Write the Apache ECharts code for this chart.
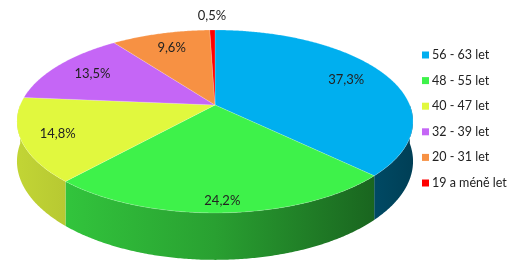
<!DOCTYPE html>
<html><head><meta charset="utf-8">
<script src="https://cdn.jsdelivr.net/npm/echarts@6/dist/echarts.min.js"></script>
<style>html,body{margin:0;padding:0;background:#fff}#c{width:513px;height:270px}</style>
</head><body><div id="c"></div>
<script>
const categories = ['56 - 63 let','48 - 55 let','40 - 47 let','32 - 39 let','20 - 31 let','19 a méně let'];
const values = [37.3, 24.2, 14.8, 13.5, 9.6, 0.5];
const colors = ['#00AFEF','#3EF24A','#E1F83E','#C566F6','#F79143','#FF0000'];

// geometry (layout)
const CX = 215, CY = 105, A = 194.8, B = 88.5, K = 0.18, D = 38.5;
const total = values.reduce((s, v) => s + v, 0);
const starts = [];
{ let acc = 0; values.forEach(v => { starts.push(acc); acc += v; }); }

function proj(t, r, dy) {
  const phi = Math.PI / 2 - t;
  const u = r * Math.cos(phi), v = r * Math.sin(phi);
  const den = 1 + K * v;
  return [CX + A * u / den, CY - B * v / den + (dy || 0) / den];
}
function hexToRgb(h) { const n = parseInt(h.slice(1), 16); return [(n >> 16) & 255, (n >> 8) & 255, n & 255]; }
function shade(h, f) { const c = hexToRgb(h); return 'rgb(' + c.map(x => Math.round(x * f)).join(',') + ')'; }
function fmt(v) { return v.toFixed(1).replace('.', ',') + '%'; }

function renderItem(params, api) {
  const i = params.dataIndex;
  const val = api.value(0);
  const t1 = starts[i] / total * Math.PI * 2;
  const t2 = t1 + val / total * Math.PI * 2;
  const step = Math.PI / 360;
  const children = [];
  const s1 = Math.max(t1, Math.PI / 2), s2 = Math.min(t2, Math.PI * 1.5);
  if (s2 > s1) {
    const top = [], bot = [];
    for (let t = s1; t < s2; t += step) { top.push(proj(t, 1, 0)); bot.push(proj(t, 1, D)); }
    top.push(proj(s2, 1, 0)); bot.push(proj(s2, 1, D));
    children.push({
      type: 'polygon', z2: 1,
      shape: { points: top.concat(bot.reverse()) },
      style: {
        fill: { type: 'linear', x: 17, y: 0, x2: 413, y2: 0, global: true,
          colorStops: [
            { offset: 0, color: shade(colors[i], 0.86) },
            { offset: 0.5, color: shade(colors[i], 0.66) },
            { offset: 1, color: shade(colors[i], 0.36) }
          ] },
        stroke: null
      }
    });
  }
  const pts = [[CX, CY]];
  for (let t = t1; t < t2; t += step) pts.push(proj(t, 1, 0));
  pts.push(proj(t2, 1, 0));
  children.push({
    type: 'polygon', z2: 10,
    shape: { points: pts },
    style: { fill: colors[i], stroke: 'rgba(255,255,255,0.3)', lineWidth: 0.6 }
  });
  const tm = (t1 + t2) / 2;
  const vm = Math.sin(Math.PI / 2 - tm);
  let r = 0.77 + 0.14 * Math.max(0, -vm);
  if (val / total < 0.02) r = 1.23;
  const lp = proj(tm, r, 0);
  children.push({
    type: 'text', z2: 20,
    x: lp[0], y: lp[1],
    style: { text: fmt(val), fill: '#222', font: '13px Lato', align: 'center', verticalAlign: 'middle' }
  });
  return { type: 'group', children: children };
}

const chart = echarts.init(document.getElementById('c'), null, { renderer: 'canvas' });
chart.setOption({
  animation: false,
  color: colors,
  legend: {
    orient: 'vertical', left: 422, top: 48, padding: 0,
    itemWidth: 7, itemHeight: 7, itemGap: 11.6, icon: 'rect',
    data: categories,
    textStyle: { fontFamily: 'Lato', fontSize: 12.5, color: '#222', lineHeight: 14, padding: [0, 0, 0, -2] }
  },
  series: [
    {
      type: 'pie', radius: [0, 0], center: [-100, -100], silent: true,
      label: { show: false }, labelLine: { show: false },
      data: categories.map((c, i) => ({ name: c, value: values[i], itemStyle: { color: colors[i] } }))
    },
    {
      type: 'custom', coordinateSystem: 'none', silent: true,
      renderItem: renderItem,
      data: values.map(v => [v])
    }
  ]
});
</script></body></html>
